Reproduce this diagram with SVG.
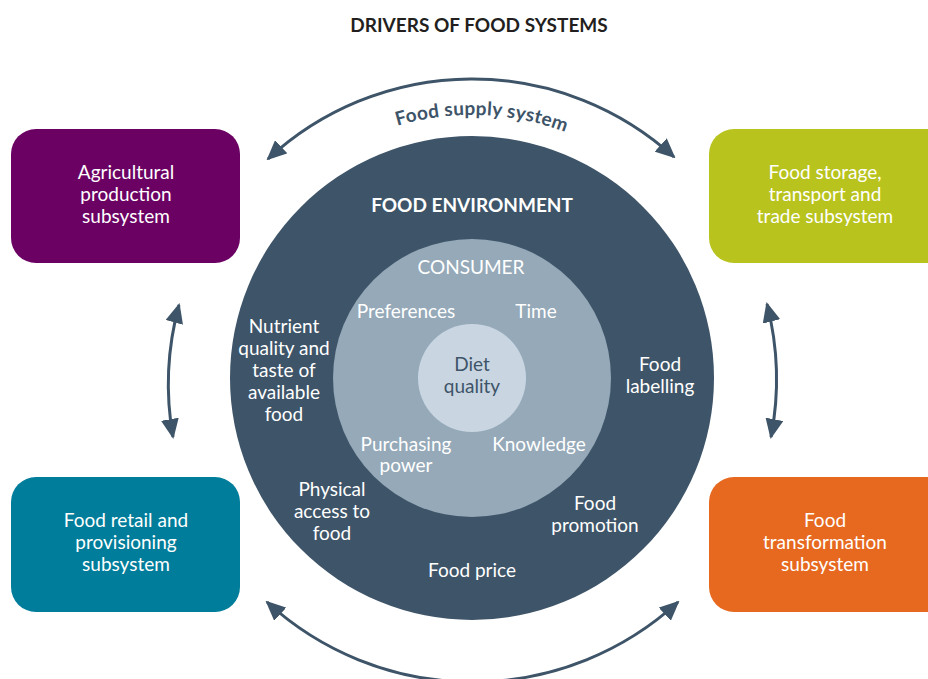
<svg xmlns="http://www.w3.org/2000/svg" width="928" height="679" viewBox="0 0 928 679">
<defs>
<style>
.lbl{font-family:Lato,"Open Sans","Liberation Sans",sans-serif;font-size:19px;fill:#ffffff;text-anchor:middle}
.ttl{font-family:Lato,"Open Sans","Liberation Sans",sans-serif;font-size:19px;font-weight:700;text-anchor:middle}
.conn{fill:none;stroke:#3e5468;stroke-width:3}
</style>
<marker id="ah" viewBox="0 0 20 18" refX="18" refY="9" markerWidth="20" markerHeight="18" markerUnits="userSpaceOnUse" orient="auto-start-reverse">
<path d="M0,0 L20,9 L0,18 z" fill="#3e5468"/>
</marker>
<path id="supplyArc" d="M 244.2 246.5 A 263 263 0 0 1 699.8 246.5"/>
</defs>
<rect width="928" height="679" fill="#ffffff"/>
<text class="ttl" x="479" y="32" fill="#231f20">DRIVERS OF FOOD SYSTEMS</text>

<g id="connectors">
<path class="conn" d="M 268 159 A 300 300 0 0 1 674 157" marker-start="url(#ah)" marker-end="url(#ah)"/>
<path class="conn" d="M 267 602 A 304 304 0 0 0 678 602" marker-start="url(#ah)" marker-end="url(#ah)"/>
<path class="conn" d="M 179 305 A 302 302 0 0 0 173 437" marker-start="url(#ah)" marker-end="url(#ah)"/>
<path class="conn" d="M 767 304 A 304 304 0 0 1 771 437" marker-start="url(#ah)" marker-end="url(#ah)"/>
<text font-family="Lato,'Open Sans','Liberation Sans',sans-serif" font-size="19" font-weight="700" fill="#3e5468" text-anchor="middle" letter-spacing="0.3"><textPath href="#supplyArc" startOffset="51.8%">Food supply system</textPath></text>
</g>

<g id="food-environment">
<circle cx="472" cy="378" r="242" fill="#3e5468"/>
<text class="ttl" x="472" y="212" fill="#ffffff">FOOD ENVIRONMENT</text>
<text class="lbl" x="284" y="333">Nutrient</text>
<text class="lbl" x="284" y="355">quality and</text>
<text class="lbl" x="284" y="377">taste of</text>
<text class="lbl" x="284" y="399">available</text>
<text class="lbl" x="284" y="421">food</text>
<text class="lbl" x="660" y="371">Food</text>
<text class="lbl" x="660" y="393">labelling</text>
<text class="lbl" x="332" y="496">Physical</text>
<text class="lbl" x="332" y="518">access to</text>
<text class="lbl" x="332" y="540">food</text>
<text class="lbl" x="595" y="510">Food</text>
<text class="lbl" x="595" y="532">promotion</text>
<text class="lbl" x="472" y="577">Food price</text>
</g>

<g id="consumer">
<circle cx="472" cy="378" r="139" fill="#95a9b8"/>
<text class="lbl" x="471" y="274">CONSUMER</text>
<text class="lbl" x="406" y="318">Preferences</text>
<text class="lbl" x="536" y="318">Time</text>
<text class="lbl" x="406" y="451">Purchasing</text>
<text class="lbl" x="406" y="472">power</text>
<text class="lbl" x="539" y="451">Knowledge</text>
</g>

<g id="diet-quality">
<circle cx="472" cy="378" r="54" fill="#c9d6e2"/>
<text class="lbl" x="472" y="371" style="fill:#3e5468">Diet</text>
<text class="lbl" x="472" y="393" style="fill:#3e5468">quality</text>
</g>

<g id="agricultural-production">
<rect x="11" y="129" width="229" height="134" rx="25" fill="#6b0263"/>
<text class="lbl" x="126" y="179">Agricultural</text>
<text class="lbl" x="126" y="201">production</text>
<text class="lbl" x="126" y="223">subsystem</text>
</g>

<g id="food-storage">
<rect x="709" y="129" width="249" height="134" rx="25" fill="#b9c31d"/>
<text class="lbl" x="825" y="179">Food storage,</text>
<text class="lbl" x="825" y="201">transport and</text>
<text class="lbl" x="825" y="223">trade subsystem</text>
</g>

<g id="food-retail">
<rect x="11" y="477" width="229" height="135" rx="25" fill="#007d9a"/>
<text class="lbl" x="126" y="527">Food retail and</text>
<text class="lbl" x="126" y="549">provisioning</text>
<text class="lbl" x="126" y="571">subsystem</text>
</g>

<g id="food-transformation">
<rect x="709" y="477" width="249" height="135" rx="25" fill="#e6691f"/>
<text class="lbl" x="825" y="527">Food</text>
<text class="lbl" x="825" y="549">transformation</text>
<text class="lbl" x="825" y="571">subsystem</text>
</g>
</svg>
